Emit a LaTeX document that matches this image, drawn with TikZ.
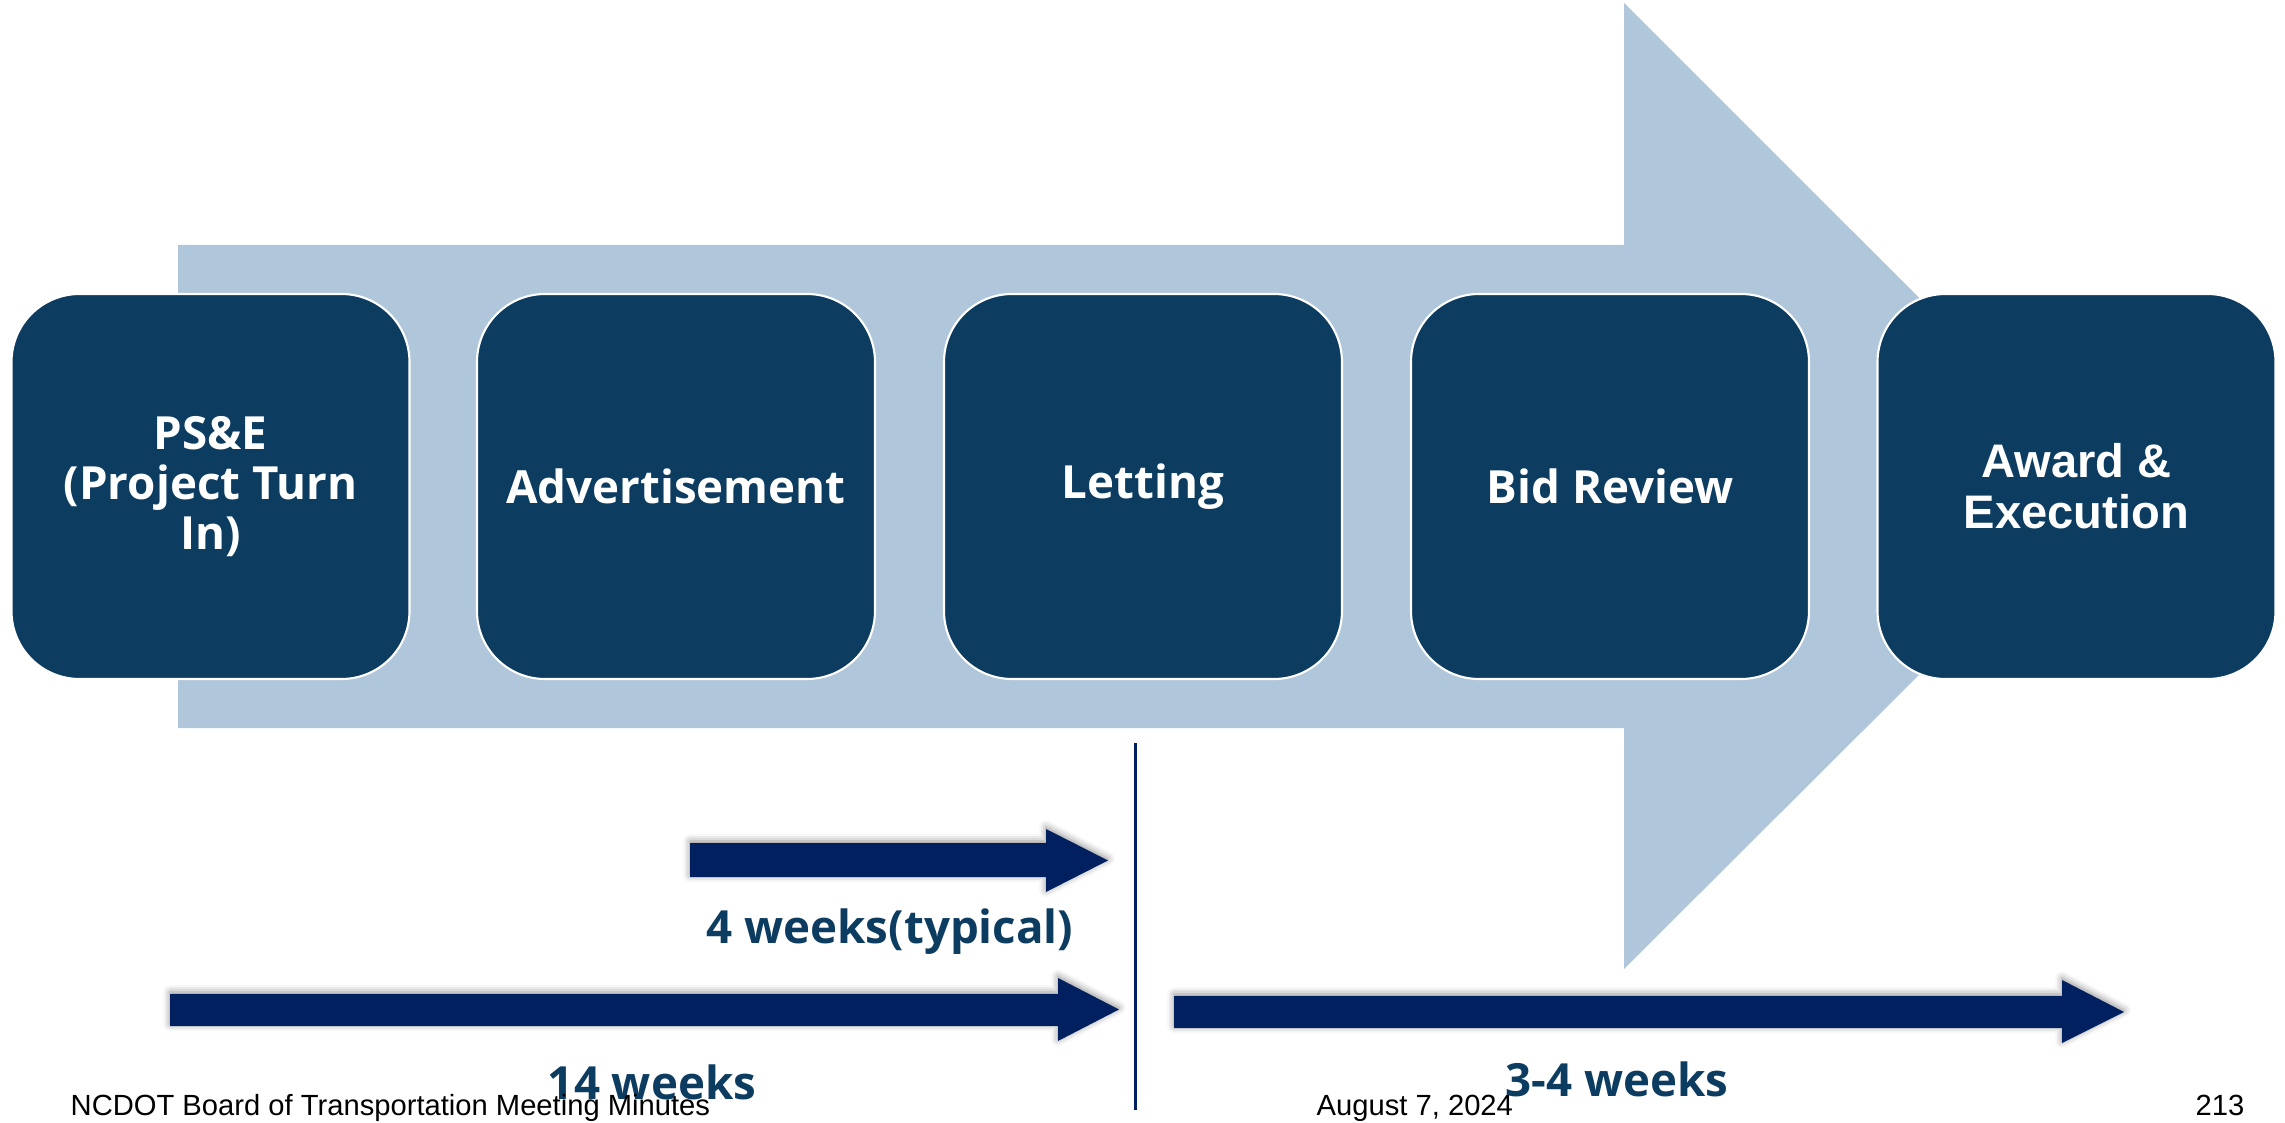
\documentclass[tikz,border=0pt]{standalone}
\usepackage{fontspec}
\setmainfont{Liberation Sans}
\newfontfamily\stepfont{Open Sans}
\usetikzlibrary{shadows.blur}
\definecolor{boxblue}{RGB}{13,60,97}
\definecolor{shaftblue}{RGB}{176,198,218}
\definecolor{navy}{RGB}{0,32,96}

\begin{document}
\begin{tikzpicture}[
        stage/.style={draw=white, line width=0.6pt, fill=boxblue, rounded corners=0.68cm,
            minimum width=3.98cm, minimum height=3.85cm, text=white, align=center,
            font=\stepfont\bfseries\fontsize{13}{14.3}\selectfont},
        weeks/.style={anchor=base, inner sep=0pt, text=boxblue,
            font=\stepfont\bfseries\fontsize{13}{14.3}\selectfont},
        footer/.style={inner sep=0pt, font=\fontsize{8.3}{10}\selectfont},
        timeline/.style={fill=navy, blur shadow={shadow xshift=0pt, shadow yshift=0.5pt,
            shadow blur radius=2pt, shadow opacity=45}}
    ]
    \useasboundingbox (0, 0) rectangle (22.85, 11.22);

    % big background arrow
    \fill[shaftblue] (1.78, 8.77) -- (16.24, 8.77) -- (16.24, 11.19) -- (21.08, 6.355)
        -- (16.24, 1.53) -- (16.24, 3.94) -- (1.78, 3.94) -- cycle;

    \node[stage] (pse) at (2.105, 6.355) {PS\&E\\(Project Turn\\In)};
    \node[stage] (advert) at (6.76, 6.355) {Advertisement};
    \node[stage] (letting) at (11.43, 6.355) {Letting};
    \node[stage] (bidreview) at (16.10, 6.355) {Bid Review};
    \node[stage, font=\bfseries\fontsize{13.4}{14.5}\selectfont] (award) at (20.765, 6.355) {Award \&\\Execution};

    % time spans
    \fill[timeline] (6.90, 2.79) -- (10.46, 2.79) -- (10.46, 2.93) -- (11.08, 2.615)
        -- (10.46, 2.30) -- (10.46, 2.45) -- (6.90, 2.45) -- cycle;
    \fill[timeline] (1.70, 1.28) -- (10.58, 1.28) -- (10.58, 1.44) -- (11.19, 1.125)
        -- (10.58, 0.81) -- (10.58, 0.96) -- (1.70, 0.96) -- cycle;
    \fill[timeline] (11.74, 1.26) -- (20.62, 1.26) -- (20.62, 1.42) -- (21.24, 1.10)
        -- (20.62, 0.79) -- (20.62, 0.94) -- (11.74, 0.94) -- cycle;

    \draw[navy, line width=0.85pt] (11.35, 3.79) -- (11.35, 0.12);

    \node[weeks] (typical) at (8.90, 1.79) {4 weeks(typical)};
    \node[weeks] (fourteen) at (6.52, 0.23) {14 weeks};
    \node[weeks] (threefour) at (16.17, 0.26) {3-4 weeks};

    % footer
    \node[footer, anchor=base west] (minutes) at (0.70, 0.07) {NCDOT Board of Transportation Meeting Minutes};
    \node[footer, anchor=base west] (date) at (13.16, 0.07) {August 7, 2024};
    \node[footer, anchor=base east] (page) at (22.45, 0.07) {213};
\end{tikzpicture}
\end{document}
